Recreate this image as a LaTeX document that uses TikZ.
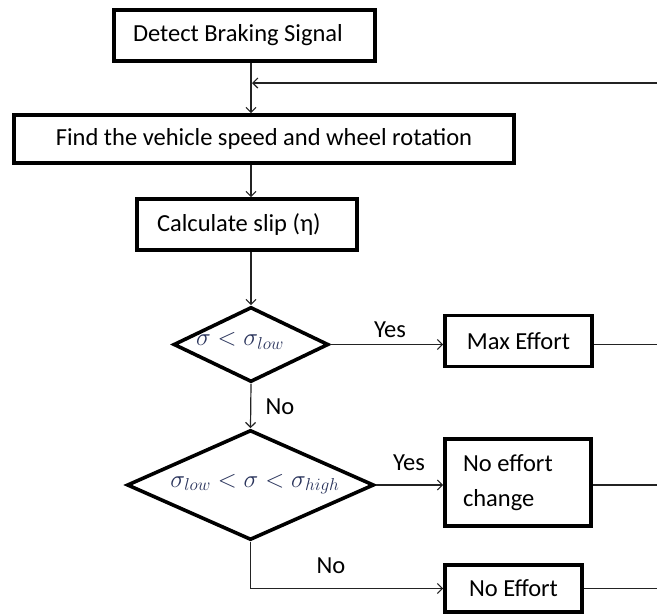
\documentclass[tikz,border=0pt]{standalone}
\usepackage{fontspec}
\setmainfont{Carlito}
\usetikzlibrary{shapes.geometric,arrows.meta,calc}
\definecolor{mathcol}{RGB}{40,50,90}
\definecolor{linecol}{RGB}{35,35,35}
\begin{document}
\begin{tikzpicture}[x=1pt,y=-1pt,
  box/.style={draw=black, line width=3.6pt, inner sep=0pt, fill=white, font=\fontsize{24.5}{29}\selectfont},
  dec/.style={diamond, aspect=2.2, draw=black, line width=3.6pt, inner sep=0pt},
  conn/.style={draw=linecol, line width=1.2pt},
  arr/.style={conn, -{Straight Barb[length=5pt,width=10pt]}},
  lbl/.style={inner sep=0pt, font=\fontsize{24.5}{29}\selectfont},
  mtxt/.style={inner sep=0pt, text=mathcol}]
\useasboundingbox (0,0) rectangle (657,616);
% boxes
\node[box, minimum width=261pt, minimum height=51pt] (b1) at (244.5,35.5) {\makebox[223pt][l]{Detect Braking Signal}};
\node[box, minimum width=500pt, minimum height=48pt] (b2) at (264,139) {Find the vehicle speed and wheel rotation};
\node[box, minimum width=220pt, minimum height=51pt] (b3) at (247,224.5) {\makebox[180pt][l]{Calculate slip (η)}};
% decisions
\node[dec, minimum width=155pt, minimum height=75pt] (d1) at (251,344.5) {};
\node[mtxt, font=\fontsize{24.5}{28}\selectfont] (d1t) at (240,341) {$\sigma < \sigma_{low}$};
\node[dec, minimum width=247pt, minimum height=110pt] (d2) at (250.5,485) {};
\node[mtxt, font=\fontsize{26.5}{30}\selectfont] (d2t) at (255,484) {$\sigma_{low} < \sigma < \sigma_{high}$};
% result boxes
\node[box, minimum width=147pt, minimum height=51pt] (mx) at (518.5,341) {Max Effort};
\node[box, minimum width=146pt, minimum height=87pt, align=left, font=\fontsize{24.5}{35}\selectfont] (nc) at (518,482.5) {\makebox[110pt][l]{No effort}\\\makebox[110pt][l]{change}};
\node[box, minimum width=137pt, minimum height=47pt] (ne) at (513.5,588.5) {No Effort};
% labels
\node[lbl] (y1) at (390,330) {Yes};
\node[lbl] (n1) at (280,407) {No};
\node[lbl] (y2) at (409,463) {Yes};
\node[lbl] (n2) at (331,566) {No};
% right edge coordinates
\coordinate (fb) at (657,83);
\coordinate (edge) at (657,0);
% connectors
\draw[arr] (fb) -- ($(fb -| d1.north)+(1,0)$);
\draw[arr] (b1.south -| d1.north) -- (b2.north -| d1.north);
\draw[arr] (b2.south -| d1.north) -- (b3.north -| d1.north);
\draw[arr] (b3.south -| d1.north) -- (d1.north);
\draw[arr] (d1.east) -- (d1.east -| mx.west);
\draw[arr] (d1.south) -- (d2.north);
\draw[arr] (d2.east) -- (d2.east -| nc.west);
\draw[arr] (d2.south) -- (d2.south |- ne.west) -- (ne.west);
\draw[conn] (mx.east |- d1.east) -- (edge |- d1.east);
\draw[conn] (nc.east |- d2.east) -- (edge |- d2.east);
\draw[conn] (ne.east) -- (edge |- ne.east);
\end{tikzpicture}
\end{document}
